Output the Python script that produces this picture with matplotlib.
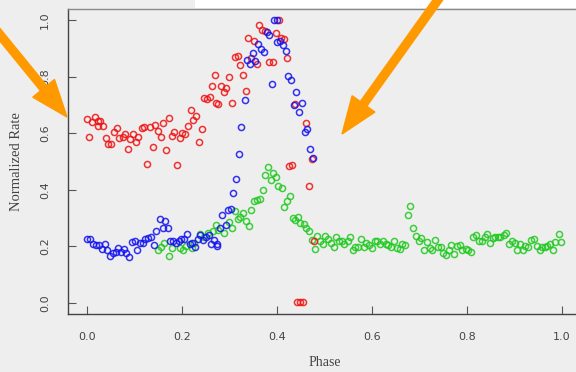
import numpy as np
import matplotlib
matplotlib.use("Agg")
import matplotlib.pyplot as plt
from matplotlib.patches import FancyArrow, Rectangle

# Phase-folded light curve, three bands
red_phase = [0.000, 0.005, 0.011, 0.017, 0.023, 0.027, 0.023, 0.034, 0.039, 0.045,
             0.051, 0.057, 0.063, 0.068, 0.075, 0.080, 0.086, 0.091, 0.097, 0.103,
             0.108, 0.115, 0.121, 0.126, 0.132, 0.138, 0.143, 0.149, 0.155, 0.161,
             0.166, 0.172, 0.179, 0.184, 0.190, 0.195, 0.201, 0.207, 0.213, 0.219,
             0.224, 0.230, 0.236, 0.242, 0.247, 0.253, 0.259, 0.272, 0.264, 0.270,
             0.276, 0.282, 0.288, 0.293, 0.299, 0.305, 0.311, 0.317, 0.322, 0.328,
             0.334, 0.339, 0.346, 0.351, 0.358, 0.362, 0.368, 0.374, 0.384, 0.391,
             0.398, 0.404, 0.409, 0.415, 0.421, 0.426, 0.432, 0.438, 0.460, 0.467,
             0.473, 0.478, 0.442, 0.448, 0.455]
red_rate = [0.649, 0.588, 0.640, 0.657, 0.643, 0.643, 0.625, 0.625, 0.583, 0.561,
            0.561, 0.604, 0.618, 0.583, 0.587, 0.596, 0.544, 0.578, 0.596, 0.570,
            0.587, 0.617, 0.622, 0.491, 0.622, 0.552, 0.631, 0.609, 0.588, 0.635,
            0.540, 0.653, 0.591, 0.604, 0.488, 0.583, 0.600, 0.596, 0.627, 0.683,
            0.648, 0.662, 0.570, 0.614, 0.725, 0.721, 0.727, 0.706, 0.769, 0.805,
            0.704, 0.769, 0.747, 0.761, 0.800, 0.708, 0.869, 0.874, 0.843, 0.805,
            0.748, 0.939, 0.867, 0.926, 0.847, 0.982, 0.965, 0.962, 0.852, 0.852,
            0.955, 1.000, 0.937, 0.934, 0.868, 0.483, 0.488, 0.704, 0.635, 0.413,
            0.509, 0.220, 0.001, 0.001, 0.001]

blue_phase = [0.001, 0.007, 0.013, 0.019, 0.025, 0.031, 0.037, 0.042, 0.048, 0.054,
              0.060, 0.065, 0.072, 0.077, 0.083, 0.089, 0.094, 0.100, 0.105, 0.112,
              0.117, 0.123, 0.129, 0.134, 0.141, 0.146, 0.153, 0.164, 0.159, 0.170,
              0.175, 0.181, 0.187, 0.193, 0.198, 0.204, 0.210, 0.216, 0.221, 0.227,
              0.233, 0.238, 0.244, 0.250, 0.256, 0.261, 0.267, 0.273, 0.273, 0.280,
              0.285, 0.292, 0.297, 0.303, 0.308, 0.314, 0.320, 0.325, 0.332, 0.337,
              0.343, 0.349, 0.353, 0.360, 0.366, 0.372, 0.378, 0.383, 0.389, 0.393,
              0.399, 0.400, 0.406, 0.412, 0.418, 0.424, 0.429, 0.441, 0.436, 0.453,
              0.447, 0.464, 0.459, 0.470, 0.476]
blue_rate = [0.225, 0.225, 0.207, 0.203, 0.203, 0.190, 0.207, 0.185, 0.164, 0.176,
             0.180, 0.195, 0.178, 0.190, 0.176, 0.161, 0.214, 0.217, 0.185, 0.213,
             0.211, 0.226, 0.229, 0.231, 0.205, 0.255, 0.298, 0.291, 0.264, 0.264,
             0.220, 0.220, 0.213, 0.220, 0.225, 0.225, 0.244, 0.208, 0.211, 0.199,
             0.225, 0.239, 0.223, 0.232, 0.241, 0.208, 0.223, 0.208, 0.201, 0.266,
             0.311, 0.275, 0.329, 0.333, 0.390, 0.438, 0.527, 0.621, 0.717, 0.861,
             0.847, 0.884, 0.856, 0.916, 0.900, 0.887, 0.959, 0.947, 0.773, 1.000,
             1.000, 0.923, 0.927, 0.914, 0.890, 0.803, 0.787, 0.746, 0.700, 0.706,
             0.674, 0.614, 0.604, 0.543, 0.513]

green_phase = [0.149, 0.156, 0.163, 0.173, 0.179, 0.196, 0.202, 0.208, 0.221, 0.226,
               0.237, 0.247, 0.254, 0.265, 0.271, 0.276, 0.288, 0.299, 0.306, 0.311,
               0.317, 0.323, 0.329, 0.335, 0.341, 0.346, 0.351, 0.357, 0.364, 0.370,
               0.375, 0.381, 0.387, 0.392, 0.398, 0.403, 0.410, 0.415, 0.421, 0.427,
               0.433, 0.438, 0.444, 0.449, 0.457, 0.462, 0.467, 0.473, 0.479, 0.485,
               0.490, 0.497, 0.502, 0.508, 0.514, 0.519, 0.525, 0.530, 0.537, 0.542,
               0.549, 0.554, 0.559, 0.565, 0.571, 0.577, 0.583, 0.588, 0.594, 0.600,
               0.606, 0.611, 0.617, 0.623, 0.629, 0.634, 0.640, 0.646, 0.652, 0.658,
               0.663, 0.670, 0.675, 0.680, 0.686, 0.692, 0.698, 0.704, 0.710, 0.715,
               0.722, 0.727, 0.733, 0.738, 0.745, 0.750, 0.756, 0.762, 0.767, 0.773,
               0.779, 0.785, 0.790, 0.797, 0.802, 0.809, 0.813, 0.819, 0.825, 0.831,
               0.837, 0.842, 0.848, 0.854, 0.859, 0.865, 0.870, 0.877, 0.882, 0.889,
               0.894, 0.900, 0.906, 0.912, 0.918, 0.923, 0.929, 0.935, 0.941, 0.947,
               0.953, 0.958, 0.964, 0.969, 0.975, 0.980, 0.986, 0.993, 0.998]
green_rate = [0.187, 0.199, 0.211, 0.164, 0.192, 0.193, 0.185, 0.201, 0.195, 0.211,
              0.243, 0.234, 0.246, 0.255, 0.276, 0.258, 0.248, 0.286, 0.264, 0.324,
              0.297, 0.304, 0.316, 0.291, 0.272, 0.330, 0.360, 0.364, 0.366, 0.400,
              0.452, 0.482, 0.435, 0.460, 0.446, 0.413, 0.405, 0.340, 0.359, 0.378,
              0.300, 0.293, 0.305, 0.282, 0.279, 0.263, 0.253, 0.223, 0.190, 0.237,
              0.220, 0.208, 0.237, 0.225, 0.213, 0.197, 0.234, 0.220, 0.217, 0.208,
              0.220, 0.234, 0.185, 0.199, 0.199, 0.225, 0.197, 0.211, 0.205, 0.193,
              0.220, 0.220, 0.208, 0.217, 0.208, 0.205, 0.199, 0.217, 0.193, 0.190,
              0.208, 0.204, 0.311, 0.344, 0.265, 0.237, 0.220, 0.229, 0.185, 0.216,
              0.192, 0.185, 0.223, 0.197, 0.197, 0.176, 0.170, 0.187, 0.204, 0.174,
              0.201, 0.204, 0.187, 0.190, 0.185, 0.179, 0.232, 0.239, 0.217, 0.217,
              0.233, 0.245, 0.211, 0.229, 0.233, 0.234, 0.234, 0.238, 0.247, 0.207,
              0.219, 0.211, 0.186, 0.207, 0.186, 0.201, 0.199, 0.223, 0.227, 0.201,
              0.187, 0.199, 0.199, 0.201, 0.208, 0.187, 0.214, 0.245, 0.214]

x_ticks = [0.0, 0.2, 0.4, 0.6, 0.8, 1.0]
y_ticks = [0.0, 0.2, 0.4, 0.6, 0.8, 1.0]

bg = '#eeeeee'
W, H = 576, 372
fig = plt.figure(figsize=(W / 100, H / 100), dpi=100, facecolor=bg)

# axes run a little past the right edge, like the cropped screenshot
ax = fig.add_axes([68 / W, 58 / H, 513 / W, 305 / H])
ax.set_facecolor(bg)

mk = dict(marker='o', linestyle='none', markersize=4.4, markerfacecolor='none',
          markeredgewidth=1.1, alpha=0.85)
ax.plot(green_phase, green_rate, color='#1ec81e', **mk)
ax.plot(red_phase, red_rate, color='#ee1111', **mk)
ax.plot(blue_phase, blue_rate, color='#1111ee', **mk)

ax.set_xlim(-0.04, 1.04)
ax.set_ylim(-0.04, 1.04)
ax.set_xticks(x_ticks)
ax.set_yticks(y_ticks)
ax.set_xticklabels(['%.1f' % v for v in x_ticks])
ax.set_yticklabels(['%.1f' % v for v in y_ticks], rotation=90, va='center')
ax.tick_params(direction='in', length=5.5, width=0.8, color='#555555',
               labelsize=8, labelcolor='#444444')
ax.tick_params(axis='x', pad=13)
ax.tick_params(axis='y', pad=13)
for s in ax.spines.values():
    s.set_color('#444444')
    s.set_linewidth(1.0)
ax.spines['top'].set_color('#888888')

ax.set_xlabel('Phase', family='Liberation Serif', fontsize=10, color='#444444', labelpad=10)
ax.set_ylabel('Normalized Rate', family='Liberation Serif', fontsize=10.5, color='#444444',
              labelpad=12)

# white strip at the top right of the screenshot
fig.add_artist(Rectangle((195 / W, 1 - 8 / H), 1, 8 / H, transform=fig.transFigure,
                         facecolor='white', edgecolor='none', zorder=5))

# orange pointer arrows (pixel positions, y measured from the top)
def arrow(x0, y0, x1, y1):
    x0, y0, x1, y1 = x0 / 100, (H - y0) / 100, x1 / 100, (H - y1) / 100
    a = FancyArrow(x0, y0, x1 - x0, y1 - y0, width=0.08, head_width=0.28,
                   head_length=0.37, length_includes_head=True,
                   transform=fig.dpi_scale_trans, color='#ff9900', zorder=10)
    fig.add_artist(a)

arrow(-8, 25, 67, 117)
arrow(445, -10, 342, 134)

fig.savefig('out.png', dpi=100, facecolor=bg)
